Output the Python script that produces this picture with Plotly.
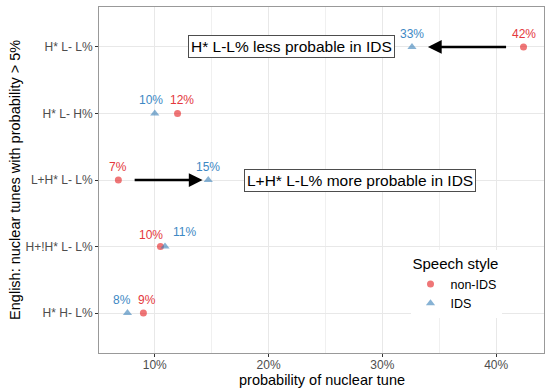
import plotly.graph_objects as go

# ---- data ----
tunes = ["H* L- L%", "H* L- H%", "L+H* L- L%", "H+!H* L- L%", "H* H- L%"]
non_ids = [42.4, 12.0, 6.8, 10.5, 9.0]
ids = [32.6, 10.0, 14.7, 10.9, 7.6]
x_ticks = [10, 20, 30, 40]
x_tick_labels = ["10%", "20%", "30%", "40%"]

RED = "rgba(228,26,28,0.6)"
BLUE = "rgba(55,126,184,0.6)"
RED_T = "#E4383C"
BLUE_T = "#3D88C4"
FONT = "Liberation Sans, Arial, sans-serif"

fig = go.Figure()
fig.add_trace(go.Scatter(x=non_ids, y=tunes, mode="markers", name="non-IDS",
                         marker=dict(symbol="circle", size=7, color=RED)))
fig.add_trace(go.Scatter(x=ids, y=tunes, mode="markers", name="IDS",
                         marker=dict(symbol="triangle-up", size=8, color=BLUE)))

# value labels (pixel nudges like ggrepel)
nudge_non = [0, 4, 0, -9, 4]
nudge_ids = [0, -4, 0, 19, -5]
lift_non = [13, 13, 13, 12, 13]
lift_ids = [13, 13, 13, 15, 13]
for i, t in enumerate(tunes):
    fig.add_annotation(x=non_ids[i], y=t, text=f"{round(non_ids[i])}%", showarrow=False,
                       xshift=nudge_non[i], yshift=lift_non[i],
                       font=dict(family=FONT, size=12, color=RED_T))
    fig.add_annotation(x=ids[i], y=t, text=f"{round(ids[i])}%", showarrow=False,
                       xshift=nudge_ids[i], yshift=lift_ids[i],
                       font=dict(family=FONT, size=12, color=BLUE_T))

# arrows
fig.add_annotation(x=34.0, y=tunes[0], ax=41.0, ay=tunes[0], axref="x", ayref="y",
                   xref="x", yref="y", text="", showarrow=True,
                   arrowhead=2, arrowsize=1.1, arrowwidth=2.5, arrowcolor="black", standoff=0)
fig.add_annotation(x=14.2, y=tunes[2], ax=8.1, ay=tunes[2], axref="x", ayref="y",
                   xref="x", yref="y", text="", showarrow=True,
                   arrowhead=2, arrowsize=1.1, arrowwidth=2.5, arrowcolor="black", standoff=0)

# boxed labels
fig.add_annotation(x=22.0, y=tunes[0], text="H* L-L% less probable in IDS", showarrow=False,
                   font=dict(family=FONT, size=15.5, color="black"),
                   bgcolor="white", bordercolor="#4D4D4D", borderwidth=1, borderpad=2)
fig.add_annotation(x=28.0, y=tunes[2], text="L+H* L-L% more probable in IDS", showarrow=False,
                   font=dict(family=FONT, size=15.5, color="black"),
                   bgcolor="white", bordercolor="#4D4D4D", borderwidth=1, borderpad=2)

# axis titles
fig.add_annotation(xref="paper", yref="paper", x=0.5, y=-0.077, yanchor="middle",
                   text="probability of nuclear tune", showarrow=False,
                   font=dict(family=FONT, size=14.5, color="black"))
fig.add_annotation(xref="paper", yref="paper", x=-0.189, y=0.5, xanchor="center",
                   yanchor="middle", textangle=-90,
                   text="English: nuclear tunes with probability > 5%", showarrow=False,
                   font=dict(family=FONT, size=14.5, color="black"))

fig.update_layout(
    width=550, height=392,
    margin=dict(l=99, r=6, t=7, b=39),
    paper_bgcolor="white", plot_bgcolor="white",
    font=dict(family=FONT, color="black"),
    legend=dict(x=0.70, y=0.298, xanchor="left", yanchor="top",
                bgcolor="white",
                title=dict(text="Speech style", font=dict(size=15, color="black")),
                font=dict(size=12.5, color="black"),
                itemsizing="trace", tracegroupgap=0),
    xaxis=dict(range=[5.1, 44.2], tickvals=x_ticks, ticktext=x_tick_labels,
               showgrid=True, gridcolor="#E8E8E8", gridwidth=1,
               minor=dict(dtick=5, tick0=5, showgrid=True, gridcolor="#F0F0F0", gridwidth=0.7),
               ticks="outside", ticklen=3, tickcolor="#333333",
               tickfont=dict(size=12, color="#4D4D4D"), ticklabelstandoff=-2,
               showline=True, linecolor="#999999", linewidth=1, mirror=True,
               zeroline=False, automargin=False),
    yaxis=dict(type="category", categoryorder="array", categoryarray=tunes[::-1],
               range=[-0.6, 4.6],
               showgrid=True, gridcolor="#E8E8E8", gridwidth=1,
               ticks="outside", ticklen=3, tickcolor="#333333",
               tickfont=dict(size=12, color="#4D4D4D"),
               showline=True, linecolor="#999999", linewidth=1, mirror=True,
               zeroline=False, automargin=False),
)

fig.write_html("out.html", post_script="document.body.style.margin='0';",
               config={"displayModeBar": False})
